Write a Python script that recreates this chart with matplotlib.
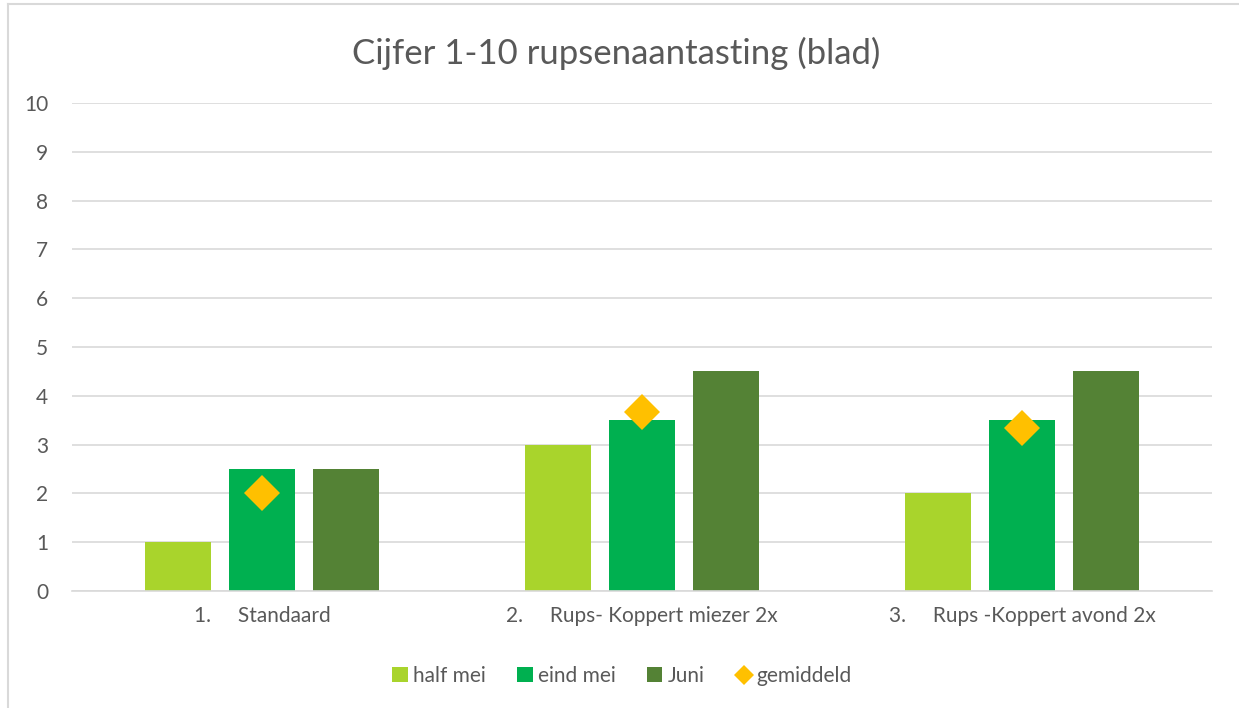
import matplotlib
matplotlib.use("Agg")
import matplotlib.pyplot as plt
from matplotlib.lines import Line2D
from matplotlib.patches import Patch
import numpy as np

categories = ["1.     Standaard", "2.     Rups- Koppert miezer 2x", "3.     Rups -Koppert avond 2x"]
series_names = ["half mei", "eind mei", "Juni"]
half_mei = [1, 3, 2]
eind_mei = [2.5, 3.5, 3.5]
juni = [2.5, 4.5, 4.5]
gemiddeld = [2.0, 3.667, 3.333]
yticks = list(range(0, 11))
title = "Cijfer 1-10 rupsenaantasting (blad)"

colors = ["#A9D42C", "#00B050", "#548235"]
avg_color = "#FFC000"
text_color = "#595959"
grid_color = "#D9D9D9"

plt.rcParams['font.family'] = ['Lato', 'DejaVu Sans']

fig = plt.figure(figsize=(12.39, 7.08), dpi=100)
ax = fig.add_axes([72/1239, 1-591/708, (1212-72)/1239, (591-103)/708])

x = np.arange(len(categories))
offset = 0.221
width = 0.176
for i, (vals, c) in enumerate(zip([half_mei, eind_mei, juni], colors)):
    ax.bar(x + (i-1)*offset, vals, width=width, color=c, zorder=2)
ax.plot(x, gemiddeld, linestyle='none', marker='D', markersize=18,
        color=avg_color, markeredgewidth=0, zorder=3)

ax.set_xlim(-0.5, 2.5)
ax.set_ylim(0, 10)
ax.set_yticks(yticks)
ax.set_yticklabels([str(t) for t in yticks])
ax.set_xticks(x)
ax.set_xticklabels(categories)
ax.grid(axis='y', color=grid_color, linewidth=1.2, zorder=0)
ax.set_axisbelow(True)
for s in ['top', 'right', 'left']:
    ax.spines[s].set_visible(False)
ax.spines['bottom'].set_color(grid_color)
ax.spines['bottom'].set_linewidth(1.2)
ax.tick_params(axis='both', length=0, colors=text_color, labelsize=15)
ax.tick_params(axis='y', pad=17)
ax.tick_params(axis='x', pad=11)

fig.text(616/1239, 1-53/708, title, ha='center', va='center', fontsize=25, color=text_color)

handles = [Patch(facecolor=c, label=n) for c, n in zip(colors, series_names)]
handles.append(Line2D([], [], linestyle='none', marker='D', markersize=10,
                      color=avg_color, markeredgewidth=0, label='gemiddeld'))
fig.legend(handles=handles, loc='center', bbox_to_anchor=(622/1239, 1-676/708),
           ncol=4, frameon=False, fontsize=15, labelcolor=text_color,
           handlelength=0.75, handleheight=0.75, handletextpad=0.25, columnspacing=1.5)

# chart border
fig.add_artist(Line2D([8/1239, 8/1239], [0, 1-4/708], transform=fig.transFigure, color=grid_color, lw=1.5))
fig.add_artist(Line2D([8/1239, 1], [1-4/708, 1-4/708], transform=fig.transFigure, color=grid_color, lw=1.5))

fig.savefig("out.png", dpi=100)
